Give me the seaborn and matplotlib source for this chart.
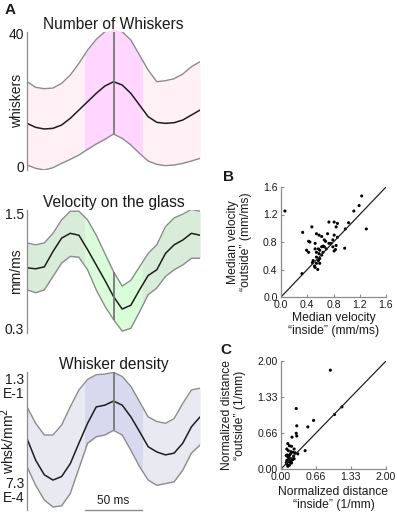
import numpy as np
import pandas as pd
import matplotlib
matplotlib.use("Agg")
import matplotlib.pyplot as plt
from matplotlib.patches import Rectangle
import seaborn as sns

sns.set_theme(style="white")
plt.rcParams['font.family'] = ['Liberation Sans', 'DejaVu Sans']

# time relative to contact (ms)
time_ms = [-75, -67.5, -60, -52.5, -45, -37.5, -30, -22.5, -15, -7.5, 0,
           7.5, 15, 22.5, 30, 37.5, 45, 52.5, 60, 67.5, 75]

# Number of whiskers
nw_upper = [25.5, 23.8, 23.4, 23.6, 25.0, 27.5, 31.0, 35.0, 38.2, 40.5, 41.2,
            40.5, 38.0, 33.5, 29.0, 25.5, 25.8, 26.4, 27.8, 30.0, 31.5]
nw_mean = [13.0, 11.8, 11.3, 11.5, 12.5, 14.5, 17.0, 19.5, 22.0, 24.2, 25.5,
           24.5, 22.0, 18.5, 15.0, 13.3, 13.0, 13.2, 14.0, 15.5, 17.0]
nw_lower = [0.5, -0.5, -1.0, -0.3, 1.0, 2.2, 3.5, 5.2, 6.8, 8.2, 9.8,
            8.5, 6.5, 4.0, 1.7, 0.7, 0.3, 0.5, 1.0, 1.7, 2.5]

# Velocity on the glass (mm/ms)
vel_upper = [1.19, 1.17, 1.19, 1.29, 1.43, 1.52, 1.52, 1.43, 1.27, 1.08, 0.89,
             0.74, 0.80, 0.94, 1.08, 1.17, 1.36, 1.45, 1.49, 1.54, 1.52]
vel_mean = [0.93, 0.92, 0.94, 1.10, 1.24, 1.29, 1.27, 1.12, 0.96, 0.80, 0.63,
            0.50, 0.54, 0.70, 0.85, 0.91, 1.08, 1.17, 1.22, 1.29, 1.27]
vel_lower = [0.70, 0.67, 0.70, 0.84, 0.98, 1.05, 1.04, 0.91, 0.70, 0.53, 0.39,
             0.27, 0.30, 0.47, 0.65, 0.72, 0.84, 0.91, 0.96, 1.03, 1.03]

# Whisker density, log10(whsk/mm^2)
dens_upper = [-1.46, -1.74, -1.94, -1.94, -1.77, -1.46, -1.17, -0.99, -0.91, -0.90, -0.87,
              -0.94, -1.11, -1.37, -1.63, -1.71, -1.74, -1.66, -1.40, -1.17, -1.14]
dens_mean = [-2.00, -2.37, -2.62, -2.71, -2.65, -2.43, -2.08, -1.74, -1.46, -1.43, -1.36,
             -1.43, -1.63, -1.88, -2.14, -2.23, -2.28, -2.25, -2.08, -1.80, -1.63]
dens_lower = [-2.48, -2.80, -3.05, -3.17, -3.15, -2.94, -2.51, -2.08, -1.97, -1.94, -1.86,
              -1.94, -2.20, -2.48, -2.71, -2.80, -2.77, -2.74, -2.54, -2.25, -2.11]

# B: median velocity inside vs outside (mm/ms)
vel_inside = [0.06, 1.23, 1.19, 1.11, 1.30, 1.03, 0.98, 0.97, 0.73, 0.81, 0.86, 0.84,
              0.33, 0.47, 0.54, 0.58, 0.62, 0.71, 0.66, 0.68, 0.79, 0.81, 0.86, 0.76,
              0.79, 0.83, 0.81, 0.84, 0.42, 0.44, 0.52, 0.39, 0.42, 0.52, 0.57, 0.59,
              0.62, 0.64, 0.66, 0.69, 0.54, 0.58, 0.62, 0.64, 0.54, 0.59, 0.49, 0.57,
              0.54, 0.48, 0.51, 0.52, 0.56, 0.59, 0.32, 0.73]
vel_outside = [1.25, 1.47, 1.33, 1.25, 0.99, 1.08, 0.99, 0.71, 1.09, 1.09, 1.07, 1.02,
               0.94, 1.02, 0.92, 0.90, 0.88, 0.92, 0.83, 0.81, 0.83, 0.90, 0.87, 0.78,
               0.73, 0.69, 0.67, 0.75, 0.81, 0.80, 0.78, 0.68, 0.65, 0.70, 0.70, 0.68,
               0.73, 0.74, 0.73, 0.70, 0.65, 0.63, 0.61, 0.65, 0.58, 0.56, 0.53, 0.53,
               0.49, 0.50, 0.45, 0.43, 0.40, 0.49, 0.34, 0.78]

# C: normalized distance inside vs outside (1/mm)
dist_inside = [0.94, 1.16, 1.02, 0.29, 0.62, 0.51, 0.30, 0.29, 0.30, 0.21, 0.46, 0.13,
               0.16, 0.20, 0.25, 0.11, 0.14, 0.19, 0.23, 0.27, 0.32, 0.10, 0.13, 0.16,
               0.18, 0.11, 0.14, 0.19, 0.22, 0.11, 0.16, 0.20, 0.13, 0.10, 0.24, 0.25,
               0.18, 0.15, 0.17, 0.12]
dist_outside = [1.83, 1.15, 1.01, 1.12, 0.90, 0.78, 0.80, 0.66, 0.61, 0.59, 0.34, 0.47,
                0.43, 0.42, 0.37, 0.37, 0.34, 0.32, 0.31, 0.30, 0.28, 0.25, 0.22, 0.25,
                0.19, 0.16, 0.14, 0.14, 0.17, 0.09, 0.07, 0.11, 0.05, 0.12, 0.24, 0.19,
                0.28, 0.19, 0.12, 0.26]

TXT = '#1a1a1a'
GRID = '#8c8c8c'


def trace_panel(ax, upper, mean, lower, outer, inner, title):
    df = pd.DataFrame({'t': time_ms, 'up': upper, 'mean': mean, 'lo': lower})
    ax.fill_between(df['t'], df['lo'], df['up'], color=outer, lw=0)
    # highlighted 50 ms window around contact
    band = ax.fill_between(df['t'], df['lo'], df['up'], color=inner, lw=0)
    clip = Rectangle((-25, -100), 50, 200, transform=ax.transData)
    band.set_clip_path(clip)
    ax.plot(df['t'], df['up'], color=GRID, lw=1)
    ax.plot(df['t'], df['lo'], color=GRID, lw=1)
    sns.lineplot(data=df, x='t', y='mean', ax=ax, color='#1e1e1e', lw=1.1)
    ax.vlines(0, df['lo'].iloc[10], df['up'].iloc[10], color='#777777', lw=1.3)
    ax.set_title(title, fontsize=11.2, color=TXT, pad=2)
    ax.set_xlim(-75, 75)
    ax.set_xlabel('')
    ax.set_xticks([])
    for s in ['top', 'right', 'bottom']:
        ax.spines[s].set_visible(False)
    ax.spines['left'].set_color(GRID)
    ax.spines['left'].set_linewidth(0.9)
    ax.tick_params(axis='y', length=0, pad=2, labelsize=10, labelcolor=TXT)


fig = plt.figure(figsize=(3.97, 5.13), dpi=100)

ax1 = fig.add_axes([0.068, 0.6686, 0.436, 0.2696])
trace_panel(ax1, nw_upper, nw_mean, nw_lower, '#fff0f6', '#ffd6ff', 'Number of Whiskers')
ax1.set_ylim(-1, 40.5)
ax1.set_yticks([0, 40])
ax1.set_ylabel('whiskers', fontsize=10, color=TXT)
ax1.yaxis.set_label_coords(-0.02, 0.5)

ax2 = fig.add_axes([0.068, 0.351, 0.436, 0.240])
trace_panel(ax2, vel_upper, vel_mean, vel_lower, '#d9ecd9', '#d8fdd8', 'Velocity on the glass')
ax2.set_ylim(0.251, 1.535)
ax2.set_yticks([0.3, 1.5])
ax2.set_yticklabels(['0.3', '1.5'])
ax2.set_ylabel('mm/ms', fontsize=10, color=TXT)
ax2.yaxis.set_label_coords(-0.025, 0.5)

ax3 = fig.add_axes([0.068, 0.0058, 0.436, 0.2696])
trace_panel(ax3, dens_upper, dens_mean, dens_lower, '#e8e9f1', '#d8d9ee', 'Whisker density')
ax3.set_ylim(-3.222, -0.859)
ax3.set_yticks([np.log10(7.3e-4), np.log10(1.3e-1)])
ax3.set_yticklabels(['7.3\nE-4', '1.3\nE-1'], linespacing=1.0)
labs = ax3.get_yticklabels()
labs[0].set_va('bottom')
labs[1].set_va('top')
ax3.set_ylabel('whsk/mm$^2$', fontsize=10, color=TXT)
ax3.yaxis.set_label_coords(-0.055, 0.5)
# 50 ms scale bar
ybar = ax3.get_ylim()[0]
ax3.plot([-25, 25], [ybar, ybar], color=GRID, lw=1, clip_on=False)
ax3.text(0, ybar + 0.05, '50 ms', ha='center', va='bottom', fontsize=8.5, color=TXT)


def scatter_panel(ax, x, y, lim, ticks, ticklabels, xlabel, ylabel, xlab_y, ylab_x):
    df = pd.DataFrame({'x': x, 'y': y})
    ax.plot([0, lim], [0, lim], color='#222222', lw=0.9)
    sns.scatterplot(data=df, x='x', y='y', ax=ax, s=5, color='black', edgecolor='none')
    ax.set_xlim(0, lim)
    ax.set_ylim(0, lim)
    ax.set_xticks(ticks)
    ax.set_yticks(ticks)
    ax.set_xticklabels(ticklabels)
    ax.set_yticklabels(ticklabels)
    for s in ['top', 'right']:
        ax.spines[s].set_visible(False)
    for s in ['left', 'bottom']:
        ax.spines[s].set_color(GRID)
        ax.spines[s].set_linewidth(0.9)
    ax.tick_params(direction='in', length=2.5, width=0.8, color=GRID,
                   labelsize=7.6, labelcolor=TXT, left=True, bottom=True)
    ax.tick_params(axis='x', pad=2.5)
    ax.tick_params(axis='y', pad=2.5)
    ax.set_xlabel(xlabel, fontsize=8.7, color=TXT, linespacing=1.1)
    ax.set_ylabel(ylabel, fontsize=8.7, color=TXT, linespacing=1.1)
    ax.xaxis.set_label_coords(0.5, xlab_y)
    ax.yaxis.set_label_coords(ylab_x, 0.5)


axB = fig.add_axes([281 / 397, 1 - 297 / 513, 105 / 397, 110 / 513])
scatter_panel(axB, vel_inside, vel_outside, 1.6, [0, 0.4, 0.8, 1.2, 1.6],
              ['0.0', '0.4', '0.8', '1.2', '1.6'],
              'Median velocity\n\u201cinside\u201d (mm/ms)',
              'Median velocity\n\u201coutside\u201d (mm/ms)', -0.14, -0.28)

axC = fig.add_axes([281 / 397, 1 - 469 / 513, 105 / 397, 108 / 513])
scatter_panel(axC, dist_inside, dist_outside, 2.0, [0, 0.66, 1.33, 2.0],
              ['0.00', '0.66', '1.33', '2.00'],
              'Normalized distance\n\u201cinside\u201d (1/mm)',
              'Normalized distance\n\u201coutside\u201d (1/mm)', -0.16, -0.33)

fig.text(10 / 397, 1 - 10 / 513, 'A', fontsize=11, fontweight='bold', ha='center', va='center', color=TXT)
fig.text(228 / 397, 1 - 177 / 513, 'B', fontsize=11, fontweight='bold', ha='center', va='center', color=TXT)
fig.text(226 / 397, 1 - 350 / 513, 'C', fontsize=11, fontweight='bold', ha='center', va='center', color=TXT)

fig.savefig('out.png', dpi=100, facecolor='white')
